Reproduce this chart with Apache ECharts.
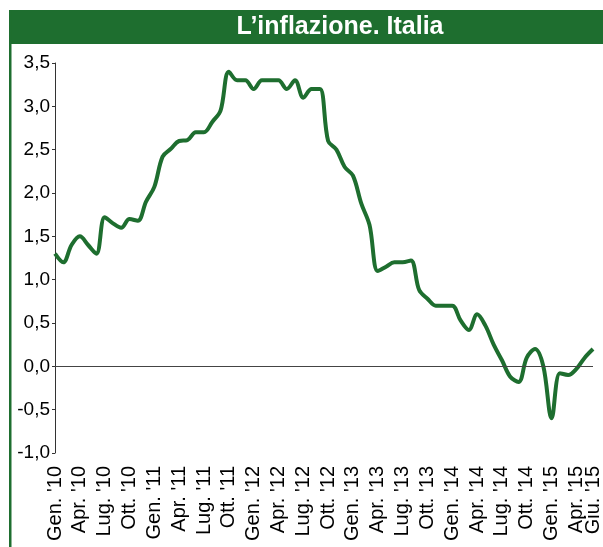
<!DOCTYPE html>
<html>

<head>
    <meta charset="utf-8">
</head>

<body style="margin: 0; background: #fff">
    <div id="container" style="width: 603px; height: 547px"></div>
    <script type="text/javascript" src="https://cdn.jsdelivr.net/npm/echarts@6/dist/echarts.min.js"></script>
    <script>
        // mesi (gen 2010 - giu 2015) e inflazione %
        var mesi = ['Gen.', 'Feb.', 'Mar.', 'Apr.', 'Mag.', 'Giu.', 'Lug.', 'Ago.', 'Set.', 'Ott.', 'Nov.', 'Dic.']
        var anni = ["'10", "'11", "'12", "'13", "'14", "'15"]
        var v2010 = [1.3, 1.2, 1.4, 1.5, 1.4, 1.3, 1.72, 1.65, 1.6, 1.7, 1.68, 1.9]
        var v2011 = [2.07, 2.42, 2.51, 2.6, 2.61, 2.7, 2.7, 2.82, 2.95, 3.4, 3.3, 3.3]
        var v2012 = [3.2, 3.3, 3.3, 3.3, 3.2, 3.3, 3.1, 3.2, 3.2, 2.6, 2.5, 2.3]
        var v2013 = [2.2, 1.88, 1.63, 1.1, 1.15, 1.2, 1.2, 1.22, 0.88, 0.78, 0.7, 0.7]
        var v2014 = [0.7, 0.53, 0.42, 0.6, 0.47, 0.25, 0.07, -0.12, -0.18, 0.1, 0.2, 0.0]
        var v2015 = [-0.6, -0.08, -0.1, -0.03, 0.1, 0.2]

        let categorie = []
        anni.forEach(function (a, i) {
            let n = i < 5 ? 12 : 6
            for (let m = 0; m < n; m++) categorie.push(mesi[m] + ' ' + a)
        })
        let valori = [].concat(v2010, v2011, v2012, v2013, v2014, v2015)
        let ultimo = categorie.length - 1

        var verde = '#1e6e2f'
        // etichette trimestrali + giu '15; apr '15 va su un secondo asse perche' si sovrappone
        function asseX(filtro) {
            return {
                type: 'category',
                data: categorie,
                boundaryGap: false,
                position: 'bottom',
                axisLine: { show: false },
                axisTick: { show: false },
                splitLine: { show: false },
                axisLabel: {
                    rotate: 90,
                    margin: 13,
                    fontSize: 20,
                    color: '#000',
                    showMaxLabel: true,
                    interval: filtro
                }
            }
        }
        var myChart = echarts.init(document.getElementById('container'))
        var option = {
            animation: false,
            textStyle: { fontFamily: 'Liberation Sans, Arial, sans-serif' },
            grid: { left: 55, right: 6, top: 63, bottom: 94 },
            graphic: [
                { type: 'rect', shape: { x: 9, y: 10, width: 594, height: 34 }, style: { fill: verde } },
                { type: 'rect', shape: { x: 9, y: 10, width: 2.5, height: 537 }, style: { fill: verde } },
                {
                    type: 'text', x: 340, y: 27,
                    style: {
                        text: 'L’inflazione. Italia', fill: '#fff',
                        font: 'bold 25px "Liberation Sans", Arial, sans-serif',
                        align: 'center', verticalAlign: 'middle'
                    }
                }
            ],
            xAxis: [
                asseX(function (i) { return (i % 3 === 0 && i !== ultimo - 2) || i === ultimo }),
                asseX(function (i) { return i === ultimo - 2 })
            ],
            yAxis: {
                type: 'value',
                min: -1,
                max: 3.5,
                interval: 0.5,
                splitLine: { show: false },
                axisLine: { show: true, lineStyle: { color: '#333', width: 1 } },
                axisTick: { show: true, length: 3, lineStyle: { color: '#333' } },
                axisLabel: {
                    margin: 5,
                    fontSize: 19,
                    color: '#000',
                    formatter: function (v) { return v.toFixed(1).replace('.', ',') }
                }
            },
            series: [{
                type: 'line',
                data: valori,
                smooth: 0.35,
                showSymbol: false,
                lineStyle: { color: verde, width: 4 },
                markLine: {
                    silent: true,
                    symbol: 'none',
                    label: { show: false },
                    lineStyle: { color: '#444', width: 1, type: 'solid' },
                    data: [{ yAxis: 0 }]
                }
            }]
        }
        myChart.setOption(option)
    </script>

</body>

</html>
